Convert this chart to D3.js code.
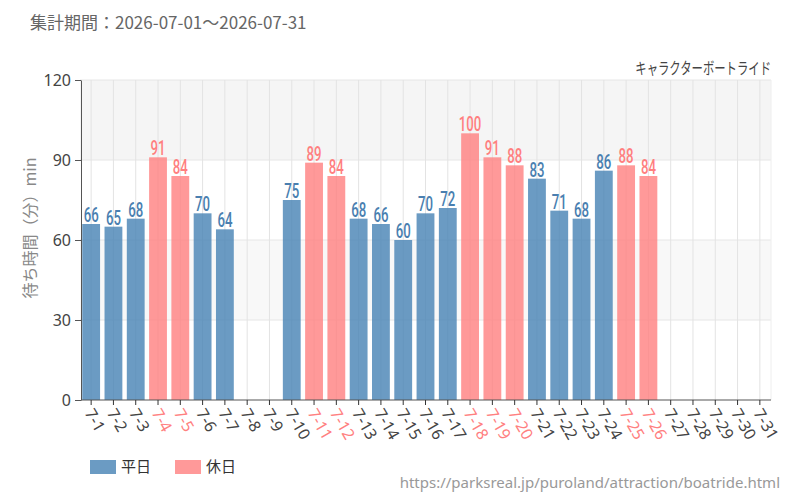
<!DOCTYPE html>
<html>
<head>
<meta charset="utf-8">
<script src="https://cdn.jsdelivr.net/npm/d3@7"></script>
<style>
  body { margin: 0; background: #fff; }
  svg { font-family: "Noto Sans CJK JP", "Noto Sans", sans-serif; }
</style>
</head>
<body>
<script>
// data
var days = ["7-1","7-2","7-3","7-4","7-5","7-6","7-7","7-8","7-9","7-10",
            "7-11","7-12","7-13","7-14","7-15","7-16","7-17","7-18","7-19","7-20",
            "7-21","7-22","7-23","7-24","7-25","7-26","7-27","7-28","7-29","7-30","7-31"];
var waitMin = [66, 65, 68, 91, 84, 70, 64, null, null, 75,
               89, 84, 68, 66, 60, 70, 72, 100, 91, 88,
               83, 71, 68, 86, 88, 84, null, null, null, null, null];
var holidays = ["7-4","7-5","7-11","7-12","7-18","7-19","7-20","7-25","7-26"];
var yTicks = [0, 30, 60, 90, 120];
var legendItems = ["平日", "休日"];

var W = 800, H = 500;
var mLeft = 80, mRight = 771, mTop = 80, mBottom = 400;
var blue = "#4682b4", pink = "#ff7f7f";

var svg = d3.select("body").append("svg")
    .attr("width", W)
    .attr("height", H);

var x = d3.scaleBand()
    .domain(days)
    .range([mLeft, mRight])
    .paddingInner(0.2)
    .paddingOuter(0.1);

var y = d3.scaleLinear()
    .domain([0, 120])
    .range([mBottom, mTop]);

function isHoliday(d) { return holidays.indexOf(d) >= 0; }
function cx(d) { return x(d) + x.bandwidth() / 2; }

// alternating background bands
var bands = [[90, 120, "#f5f5f5"], [30, 60, "#f8f8f8"]];
svg.selectAll("rect.band")
    .data(bands)
    .enter()
    .append("rect")
    .attr("class", "band")
    .attr("x", mLeft)
    .attr("width", mRight - mLeft)
    .attr("y", function(d) { return y(d[1]); })
    .attr("height", function(d) { return y(d[0]) - y(d[1]); })
    .attr("fill", function(d) { return d[2]; });

// grid lines
svg.selectAll("line.hgrid")
    .data(yTicks.slice(1))
    .enter()
    .append("line")
    .attr("x1", mLeft).attr("x2", mRight)
    .attr("y1", function(d) { return y(d); })
    .attr("y2", function(d) { return y(d); })
    .attr("stroke", "#e6e6e6");

svg.selectAll("line.vgrid")
    .data(days)
    .enter()
    .append("line")
    .attr("x1", cx).attr("x2", cx)
    .attr("y1", mTop).attr("y2", mBottom)
    .attr("stroke", "#e3e3e3");

svg.append("line")
    .attr("x1", mRight).attr("x2", mRight)
    .attr("y1", mTop).attr("y2", mBottom)
    .attr("stroke", "#eeeeee");

// bars
var rows = days.map(function(d, i) { return {day: d, v: waitMin[i]}; })
    .filter(function(r) { return r.v != null; });

svg.selectAll("rect.bar")
    .data(rows)
    .enter()
    .append("rect")
    .attr("class", "bar")
    .attr("x", function(r) { return x(r.day); })
    .attr("width", x.bandwidth())
    .attr("y", function(r) { return y(r.v); })
    .attr("height", function(r) { return y(0) - y(r.v); })
    .attr("fill", function(r) { return isHoliday(r.day) ? pink : blue; })
    .attr("fill-opacity", 0.8);

// value labels, squeezed to look condensed
svg.selectAll("text.val")
    .data(rows)
    .enter()
    .append("text")
    .attr("transform", function(r) {
        return "translate(" + cx(r.day) + "," + (y(r.v) - 2) + ") scale(0.66,1)";
    })
    .attr("text-anchor", "middle")
    .attr("font-family", "Roboto, sans-serif")
    .attr("font-weight", 500)
    .attr("font-size", 20)
    .attr("fill", function(r) { return isHoliday(r.day) ? "#ff7f7f" : "#4a7fb0"; })
    .text(function(r) { return r.v; });

// y axis
var yAxis = svg.append("g")
    .attr("transform", "translate(" + (mLeft + 1) + ",0)")
    .call(d3.axisLeft(y).tickValues(yTicks).tickSizeOuter(0).tickPadding(4));
yAxis.select(".domain").attr("stroke", "#555");
yAxis.selectAll(".tick line").attr("stroke", "#555");
yAxis.selectAll("text")
    .attr("font-family", "'Noto Sans', sans-serif")
    .attr("font-size", 16)
    .attr("fill", "#444");

// x axis
var xAxis = svg.append("g")
    .attr("transform", "translate(0," + mBottom + ")")
    .call(d3.axisBottom(x).tickSizeOuter(0).tickSize(5));
xAxis.select(".domain").attr("stroke", "#555").attr("d", "M" + (mLeft + 1) + ",0H" + mRight);
xAxis.selectAll(".tick line").attr("stroke", "#333");
xAxis.selectAll("text")
    .attr("font-family", "'Noto Sans', sans-serif")
    .attr("font-size", 16)
    .attr("fill", function(d) { return isHoliday(d) ? "#ff8080" : "#444"; })
    .attr("text-anchor", "start")
    .attr("x", 0).attr("y", 0).attr("dy", "0.35em")
    .attr("transform", "translate(-2,10) rotate(60)");

// texts
svg.append("text")
    .attr("x", 30).attr("y", 29)
    .attr("font-size", 17)
    .attr("fill", "#666")
    .text("集計期間：2026-07-01～2026-07-31");

svg.append("text")
    .attr("transform", "translate(" + mRight + ",74) scale(0.71,1)")
    .attr("text-anchor", "end")
    .attr("font-size", 16)
    .attr("fill", "#444")
    .text("キャラクターボートライド");

svg.append("text")
    .attr("transform", "translate(36,228) rotate(-90)")
    .attr("text-anchor", "middle")
    .attr("font-size", 16)
    .attr("fill", "#888")
    .text("待ち時間（分）min");

// legend
var lg = svg.selectAll("g.legend")
    .data(legendItems)
    .enter()
    .append("g")
    .attr("transform", function(d, i) { return "translate(" + (90 + i * 85) + ",460)"; });
lg.append("rect")
    .attr("width", 26).attr("height", 14)
    .attr("fill", function(d, i) { return i == 0 ? blue : pink; })
    .attr("fill-opacity", 0.8);
lg.append("text")
    .attr("x", 31).attr("y", 7).attr("dy", "0.35em")
    .attr("font-size", 15)
    .attr("fill", "#333")
    .text(function(d) { return d; });

svg.append("text")
    .attr("x", 780).attr("y", 488)
    .attr("text-anchor", "end")
    .attr("font-family", "'Noto Sans', sans-serif")
    .attr("font-size", 15)
    .attr("fill", "#999")
    .text("https://parksreal.jp/puroland/attraction/boatride.html");
</script>
</body>
</html>
